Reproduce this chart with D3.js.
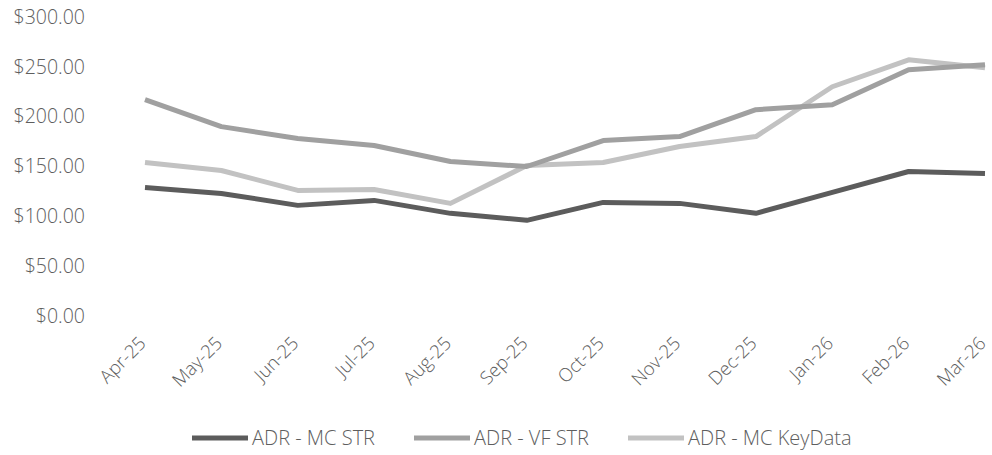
<!DOCTYPE html>
<html>
<head>
<meta charset="utf-8">
<script src="https://cdn.jsdelivr.net/npm/d3@7"></script>
<style>
  html, body { margin: 0; padding: 0; background: #ffffff; }
  svg { display: block; }
  text { font-family: "Open Sans", "Noto Sans", sans-serif; fill: #5e5e5e; font-weight: 300; }
</style>
</head>
<body>
<svg id="chart" width="992" height="455"></svg>
<script>
const categories = ["Apr-25","May-25","Jun-25","Jul-25","Aug-25","Sep-25","Oct-25","Nov-25","Dec-25","Jan-26","Feb-26","Mar-26"];
const mcStr      = [129, 123, 111, 116, 103, 96, 114, 113, 103, 124, 145, 143];
const vfStr      = [217, 190, 178, 171, 155, 150, 176, 180, 207, 212, 247, 252];
const mcKeyData  = [154, 146, 126, 127, 113, 151, 154, 170, 180, 230, 257, 249];
const seriesNames = ["ADR - MC STR", "ADR - VF STR", "ADR - MC KeyData"];
const yTicks = [0, 50, 100, 150, 200, 250, 300];

const series = [
  { name: seriesNames[0], values: mcStr,     color: "#5c5c5c" },
  { name: seriesNames[1], values: vfStr,     color: "#a0a0a0" },
  { name: seriesNames[2], values: mcKeyData, color: "#c2c2c2" }
];

const svg = d3.select("#chart");
const x = d3.scalePoint().domain(categories).range([145, 985]);
const y = d3.scaleLinear().domain([0, 300]).range([316, 17]);

// Y axis
const yAxis = d3.axisLeft(y).tickValues(yTicks).tickSize(0).tickPadding(0)
  .tickFormat(d => "$" + d3.format(".2f")(d));
const gy = svg.append("g").attr("transform", "translate(85,0)").call(yAxis);
gy.select(".domain").remove();
gy.selectAll("text").attr("font-size", "19.5px").attr("fill", "#5e5e5e")
  .style("font-family", '"Open Sans", sans-serif').style("font-weight", 300);

// X axis labels
const xAxis = d3.axisBottom(x).tickSize(0).tickPadding(0);
const gx = svg.append("g").attr("transform", "translate(0,316)").call(xAxis);
gx.select(".domain").remove();
gx.selectAll("text")
  .attr("font-size", "18.5px").attr("fill", "#5e5e5e")
  .style("font-family", '"Open Sans", sans-serif').style("font-weight", 300)
  .attr("text-anchor", "end")
  .attr("dy", "0.35em")
  .attr("transform", "translate(-3,24) rotate(-45)")
  .attr("y", 0).attr("x", 0);

// Lines
const line = d3.line().x((d, i) => x(categories[i])).y(d => y(d));
svg.append("g").selectAll("path").data(series.slice().reverse()).join("path")
  .attr("d", d => line(d.values))
  .attr("fill", "none")
  .attr("stroke", d => d.color)
  .attr("stroke-width", 5)
  .attr("stroke-linejoin", "round");

// Legend
const legendX = [192, 414, 628];
const lg = svg.append("g").selectAll("g").data(series).join("g")
  .attr("transform", (d, i) => `translate(${legendX[i]},438)`);
lg.append("line").attr("x1", 0).attr("x2", 56).attr("y1", 0).attr("y2", 0)
  .attr("stroke", d => d.color).attr("stroke-width", 5);
lg.append("text").attr("x", 60).attr("y", 0).attr("dy", "0.35em")
  .attr("font-size", "20px").text(d => d.name);
</script>
</body>
</html>
